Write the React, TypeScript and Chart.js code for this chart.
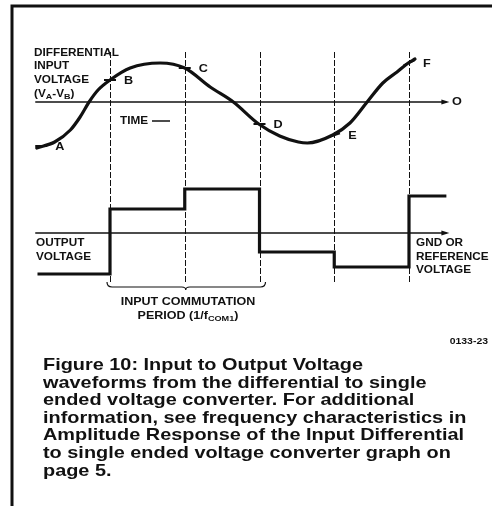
import React, { useEffect, useRef } from "react";
import { Chart, registerables } from "chart.js";

Chart.register(...registerables);

// ---- data (time in commutation periods, voltages in relative units) ----
const inputTimes = [0.02, 0.26, 0.47, 0.6, 0.72, 0.84, 1.0, 1.27, 1.67, 2.0, 2.34, 2.65, 2.99, 3.27, 3.52, 3.64, 3.98, 4.21, 4.44, 4.65, 4.84, 4.99, 5.08];
const inputVolts = [-1.15, -1.0, -0.7, -0.375, 0, 0.3, 0.55, 0.85, 0.975, 0.85, 0.375, 0, -0.55, -0.85, -1.0, -1.025, -0.825, -0.525, 0, 0.475, 0.75, 0.975, 1.075];

const sampleLabels = ["A", "B", "C", "D", "E", "F"];
const sampleTimes = [0.08, 1, 2, 3, 4, 5];
const sampleVolts = [-1.1, 0.55, 0.85, -0.55, -0.83, 0.98];
const sampleTilt = [0, 0, 0, 0, -18, -25];

const outputTimes = [0.03, 1, 2, 3, 4, 5, 5.5];
const outputLevels = [-1.025, 0.6, 1.1, -0.475, -0.85, 0.925, 0.925];

const commutationTimes = [1, 2, 3, 4, 5];
const axisStart = 0;
const axisEnd = 5.5;

const captionLines = [
  "Figure 10: Input to Output Voltage",
  "waveforms from the differential to single",
  "ended voltage converter. For additional",
  "information, see frequency characteristics in",
  "Amplitude Response of the Input Differential",
  "to single ended voltage converter graph on",
  "page 5.",
];

const FONT = "'Liberation Sans', Arial, Helvetica, sans-serif";
const INK = "#111";

type Part = [string, boolean];

function drawRich(
  ctx: CanvasRenderingContext2D,
  parts: Part[],
  x: number,
  y: number,
  size: number,
  align: "left" | "center" | "right",
  sx = 1.12,
  weight = "bold"
) {
  const big = `${weight} ${size}px ${FONT}`;
  const small = `${weight} ${Math.round(size * 0.72)}px ${FONT}`;
  let total = 0;
  for (const [t, sub] of parts) {
    ctx.font = sub ? small : big;
    total += ctx.measureText(t).width;
  }
  let cx = align === "center" ? -total / 2 : align === "right" ? -total : 0;
  ctx.save();
  ctx.translate(x, y);
  ctx.scale(sx, 1);
  ctx.textAlign = "left";
  for (const [t, sub] of parts) {
    ctx.font = sub ? small : big;
    ctx.fillText(t, cx, sub ? size * 0.22 : 0);
    cx += ctx.measureText(t).width;
  }
  ctx.restore();
}

function arrow(ctx: CanvasRenderingContext2D, x: number, y: number) {
  ctx.beginPath();
  ctx.moveTo(x + 2, y);
  ctx.lineTo(x - 6, y - 2.5);
  ctx.lineTo(x - 6, y + 2.5);
  ctx.closePath();
  ctx.fill();
}

const decor = {
  id: "decor",
  beforeDatasetsDraw(chart: any) {
    const { ctx } = chart;
    const xs = chart.scales.x;
    const yi = chart.scales.yIn;
    const yo = chart.scales.yOut;
    ctx.save();
    ctx.strokeStyle = INK;
    ctx.fillStyle = INK;
    // frame
    ctx.lineWidth = 3;
    ctx.beginPath();
    ctx.moveTo(10.5, 6);
    ctx.lineTo(492, 6);
    ctx.moveTo(12, 4.5);
    ctx.lineTo(12, 506);
    ctx.stroke();

    // commutation dashed lines
    ctx.lineWidth = 1;
    ctx.setLineDash([6, 2]);
    for (const t of commutationTimes) {
      const px = Math.round(xs.getPixelForValue(t)) + 0.5;
      ctx.beginPath();
      ctx.moveTo(px, 52);
      ctx.lineTo(px, 282);
      ctx.stroke();
    }
    ctx.setLineDash([]);

    // zero / reference axes
    const x0 = xs.getPixelForValue(axisStart);
    const x1 = xs.getPixelForValue(axisEnd);
    ctx.lineWidth = 1.3;
    for (const y of [yi.getPixelForValue(0), yo.getPixelForValue(0)]) {
      ctx.beginPath();
      ctx.moveTo(x0, y);
      ctx.lineTo(x1, y);
      ctx.stroke();
      arrow(ctx, x1 + 1, y);
    }

    // brace under first commutation periods
    const bl = xs.getPixelForValue(1) - 3;
    const br = xs.getPixelForValue(3) + 6;
    const bc = xs.getPixelForValue(2) + 1;
    const by = 287;
    ctx.lineWidth = 1.2;
    ctx.beginPath();
    ctx.moveTo(bl, by - 5);
    ctx.quadraticCurveTo(bl, by, bl + 5, by);
    ctx.lineTo(bc - 4, by);
    ctx.quadraticCurveTo(bc, by, bc, by + 3);
    ctx.quadraticCurveTo(bc, by, bc + 4, by);
    ctx.lineTo(br - 5, by);
    ctx.quadraticCurveTo(br, by, br, by - 5);
    ctx.stroke();

    // TIME dash
    ctx.lineWidth = 1.5;
    ctx.beginPath();
    ctx.moveTo(152, 121);
    ctx.lineTo(170, 121);
    ctx.stroke();
    ctx.restore();
  },
  afterDatasetsDraw(chart: any) {
    const { ctx } = chart;
    const xs = chart.scales.x;
    const yi = chart.scales.yIn;
    ctx.save();
    ctx.fillStyle = INK;
    ctx.textBaseline = "middle";

    const lab = (t: string, x: number, y: number, size = 10.5, sx = 1.12) =>
      drawRich(ctx, [[t, false]], x, y, size, "left", sx);
    lab("DIFFERENTIAL", 34, 53);
    lab("INPUT", 34, 66);
    lab("VOLTAGE", 34, 80);
    drawRich(ctx, [["(V", false], ["A", true], ["-V", false], ["B", true], [")", false]], 34, 94, 10.5, "left");
    lab("TIME", 120, 121);
    lab("O", 452, 102, 11.5, 1.1);

    lab("OUTPUT", 36, 243);
    lab("VOLTAGE", 36, 257);
    lab("GND OR", 416, 243);
    lab("REFERENCE", 416, 257);
    lab("VOLTAGE", 416, 270);

    drawRich(ctx, [["INPUT COMMUTATION", false]], 188, 302, 11, "center", 1.14);
    drawRich(ctx, [["PERIOD (1/f", false], ["COM1", true], [")", false]], 188, 316, 11, "center", 1.14);

    // point letters
    sampleLabels.forEach((s, i) => {
      const px = xs.getPixelForValue(sampleTimes[i]);
      const py = yi.getPixelForValue(sampleVolts[i]);
      lab(s, px + 14, py + 1, 11.5, 1.1);
    });

    drawRich(ctx, [["0133-23", false]], 488, 341, 9.5, "right", 1.1, "600");

    ctx.textBaseline = "alphabetic";
    captionLines.forEach((l, i) => {
      drawRich(ctx, [[l, false]], 43, 370 + i * 17.6, 17, "left", 1.17);
    });
    ctx.restore();
  },
};

export default function App() {
  const ref = useRef<HTMLCanvasElement | null>(null);
  useEffect(() => {
    document.body.style.margin = "0";
    const canvas = ref.current!;
    const W = 492, H = 506;
    const pxPerT = 74.75;
    const x1px = 110;
    const xMin = 1 - x1px / pxPerT;
    const xMax = 1 + (W - x1px) / pxPerT;
    const pxPerV = 40;
    const zeroIn = 102;
    const zeroOut = 233;
    const chart = new Chart(canvas, {
      type: "line",
      data: {
        datasets: [
          {
            label: "Differential input voltage",
            data: inputTimes.map((t, i) => ({ x: t, y: inputVolts[i] })),
            yAxisID: "yIn",
            borderColor: INK,
            borderWidth: 3.2,
            pointRadius: 0,
            cubicInterpolationMode: "monotone",
            borderCapStyle: "round",
          },
          {
            label: "Samples",
            type: "scatter",
            data: sampleTimes.map((t, i) => ({ x: t, y: sampleVolts[i] })),
            yAxisID: "yIn",
            pointStyle: "line",
            pointRadius: 6,
            pointRotation: sampleTilt,
            borderColor: INK,
            pointBorderWidth: 2,
            borderWidth: 2,
          } as any,
          {
            label: "Output voltage",
            data: outputTimes.map((t, i) => ({ x: t, y: outputLevels[i] })),
            yAxisID: "yOut",
            stepped: "before",
            borderColor: INK,
            borderWidth: 3.2,
            pointRadius: 0,
          },
        ],
      },
      options: {
        animation: false,
        responsive: false,
        maintainAspectRatio: false,
        layout: { padding: 0, autoPadding: false },
        plugins: { legend: { display: false }, tooltip: { enabled: false }, title: { display: false } },
        scales: {
          x: { type: "linear", display: false, min: xMin, max: xMax },
          yIn: { type: "linear", display: false, min: -(H - zeroIn) / pxPerV, max: zeroIn / pxPerV },
          yOut: { type: "linear", display: false, min: -(H - zeroOut) / pxPerV, max: zeroOut / pxPerV },
        },
      },
      plugins: [decor],
    } as any);
    return () => chart.destroy();
  }, []);
  return (
    <div style={{ width: 492, height: 506, background: "#fff" }}>
      <canvas ref={ref} width={492} height={506} style={{ display: "block" }} />
    </div>
  );
}
